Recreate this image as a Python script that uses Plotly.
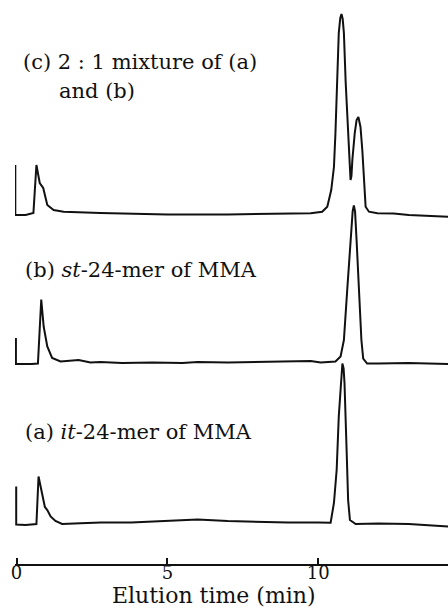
import plotly.graph_objects as go

# Elution time (min) and detector signal (arbitrary units, relative to each trace's baseline)
time_c = [-0.04, -0.04, 0.30, 0.56, 0.66, 0.77, 0.885, 1.02, 1.23, 1.56, 2.78, 4.0, 5.0, 7.0, 9.0, 9.75,
          10.13, 10.30, 10.43, 10.52, 10.57, 10.63, 10.68, 10.73, 10.77, 10.81, 10.85, 10.91, 10.98,
          11.05, 11.07, 11.10, 11.13, 11.21, 11.27, 11.33, 11.40, 11.46, 11.51, 11.57, 11.68, 11.96,
          12.5, 13.0, 14.35]
signal_c = [49, -1, -1, 1, 49, 31, 26, 9, 4, 2.3, 1, 0, -0.5, -0.5, 0, 0.7,
            2.3, 7.3, 24, 47, 81, 131, 181, 196, 200, 195, 181, 131, 81,
            41, 34, 38, 54, 81, 94, 97, 87, 64, 31, 7.3, 2.3, 0.7,
            0.5, -1, -2.7]

time_b = [-0.02, -0.02, 0.50, 0.71, 0.82, 0.90, 1.02, 1.18, 1.46, 2.06, 2.45, 2.78, 3.5, 4.5, 5.5,
          6.0, 7.0, 8.0, 9.0, 9.75, 10.08, 10.57, 10.74, 10.85, 10.96, 11.07, 11.14, 11.18, 11.22,
          11.27, 11.35, 11.43, 11.49, 11.62, 12.0, 13.0, 14.35]
signal_b = [25.5, -0.5, -0.5, 0, 64, 37, 17, 5.5, 2, 3.5, 1, 1.5, 0.5, 1, 0.5,
            1.5, 1, 1.5, 2, 2.5, 1, 2, 7, 23.5, 73.5, 123.5, 152, 158, 152,
            123.5, 73.5, 23.5, 5, 0, 0, 0.5, -0.5]

time_a = [-0.01, -0.01, 0.30, 0.66, 0.73, 0.85, 0.94, 1.02, 1.13, 1.29, 1.51, 2.12, 2.8, 3.8,
          5.0, 6.0, 7.0, 8.0, 9.0, 10.0, 10.41, 10.52, 10.61, 10.68, 10.76, 10.80, 10.84, 10.87,
          10.94, 10.99, 11.05, 11.24, 12.0, 13.0, 14.35]
signal_a = [38, 0, -0.5, 0.5, 48, 29.5, 17.5, 14.5, 8, 3.5, 0.5, 1.2, 2, 2,
            3.5, 5, 3.5, 2.5, 2, 2, 1.8, 21.5, 54.5, 108, 151.5, 161, 156, 141.5,
            74.5, 24.5, 4.5, 0.5, 1, 0.5, -2]

labels = {
    "c1": "(c) 2 : 1 mixture of (a)",
    "c2": "and (b)",
    "b": "(b) <i>st</i>-24-mer of MMA",
    "a": "(a) <i>it</i>-24-mer of MMA",
}
tick_vals = [0, 5, 10]
tick_text = ["0", "5", "10"]
x_title = "Elution time (min)"

# vertical stacking offsets of the three chromatograms
offset_c, offset_b, offset_a = 350, 200.5, 39.5

FONT = "DejaVu Serif"
INK = "#111111"

fig = go.Figure()
for t, s, off in [(time_c, signal_c, offset_c), (time_b, signal_b, offset_b), (time_a, signal_a, offset_a)]:
    fig.add_trace(go.Scatter(
        x=t, y=[v + off for v in s], mode="lines",
        line=dict(color=INK, width=2), hoverinfo="skip", showlegend=False,
    ))

label_font = dict(family=FONT, size=21, color=INK)
fig.add_annotation(x=0.14, y=502, text=labels["c1"], showarrow=False, xanchor="left", yanchor="middle", font=label_font)
fig.add_annotation(x=1.35, y=473, text=labels["c2"], showarrow=False, xanchor="left", yanchor="middle", font=label_font)
fig.add_annotation(x=0.2, y=294, text=labels["b"], showarrow=False, xanchor="left", yanchor="middle", font=label_font)
fig.add_annotation(x=0.2, y=132, text=labels["a"], showarrow=False, xanchor="left", yanchor="middle", font=label_font)
fig.add_annotation(x=6.53, xref="x", y=-31 / 564, yref="paper", text=x_title, showarrow=False,
                   xanchor="center", yanchor="middle", font=dict(family=FONT, size=22, color=INK))

fig.update_layout(
    width=448, height=612,
    margin=dict(l=15, r=0, t=0, b=48),
    paper_bgcolor="white", plot_bgcolor="white",
    xaxis=dict(
        range=[-0.05, 14.3], showgrid=False, zeroline=False,
        showline=True, linecolor=INK, linewidth=2,
        ticks="inside", ticklen=6, tickwidth=1.5, tickcolor=INK,
        tickvals=tick_vals, ticktext=tick_text,
        tickfont=dict(family=FONT, size=18, color=INK),
        ticklabelstandoff=-9,
    ),
    yaxis=dict(range=[0, 564], visible=False, showgrid=False, zeroline=False),
)

fig.write_html(
    "out.html",
    config={"displayModeBar": False},
    post_script="document.body.style.margin='0';document.body.style.overflow='hidden';",
)
